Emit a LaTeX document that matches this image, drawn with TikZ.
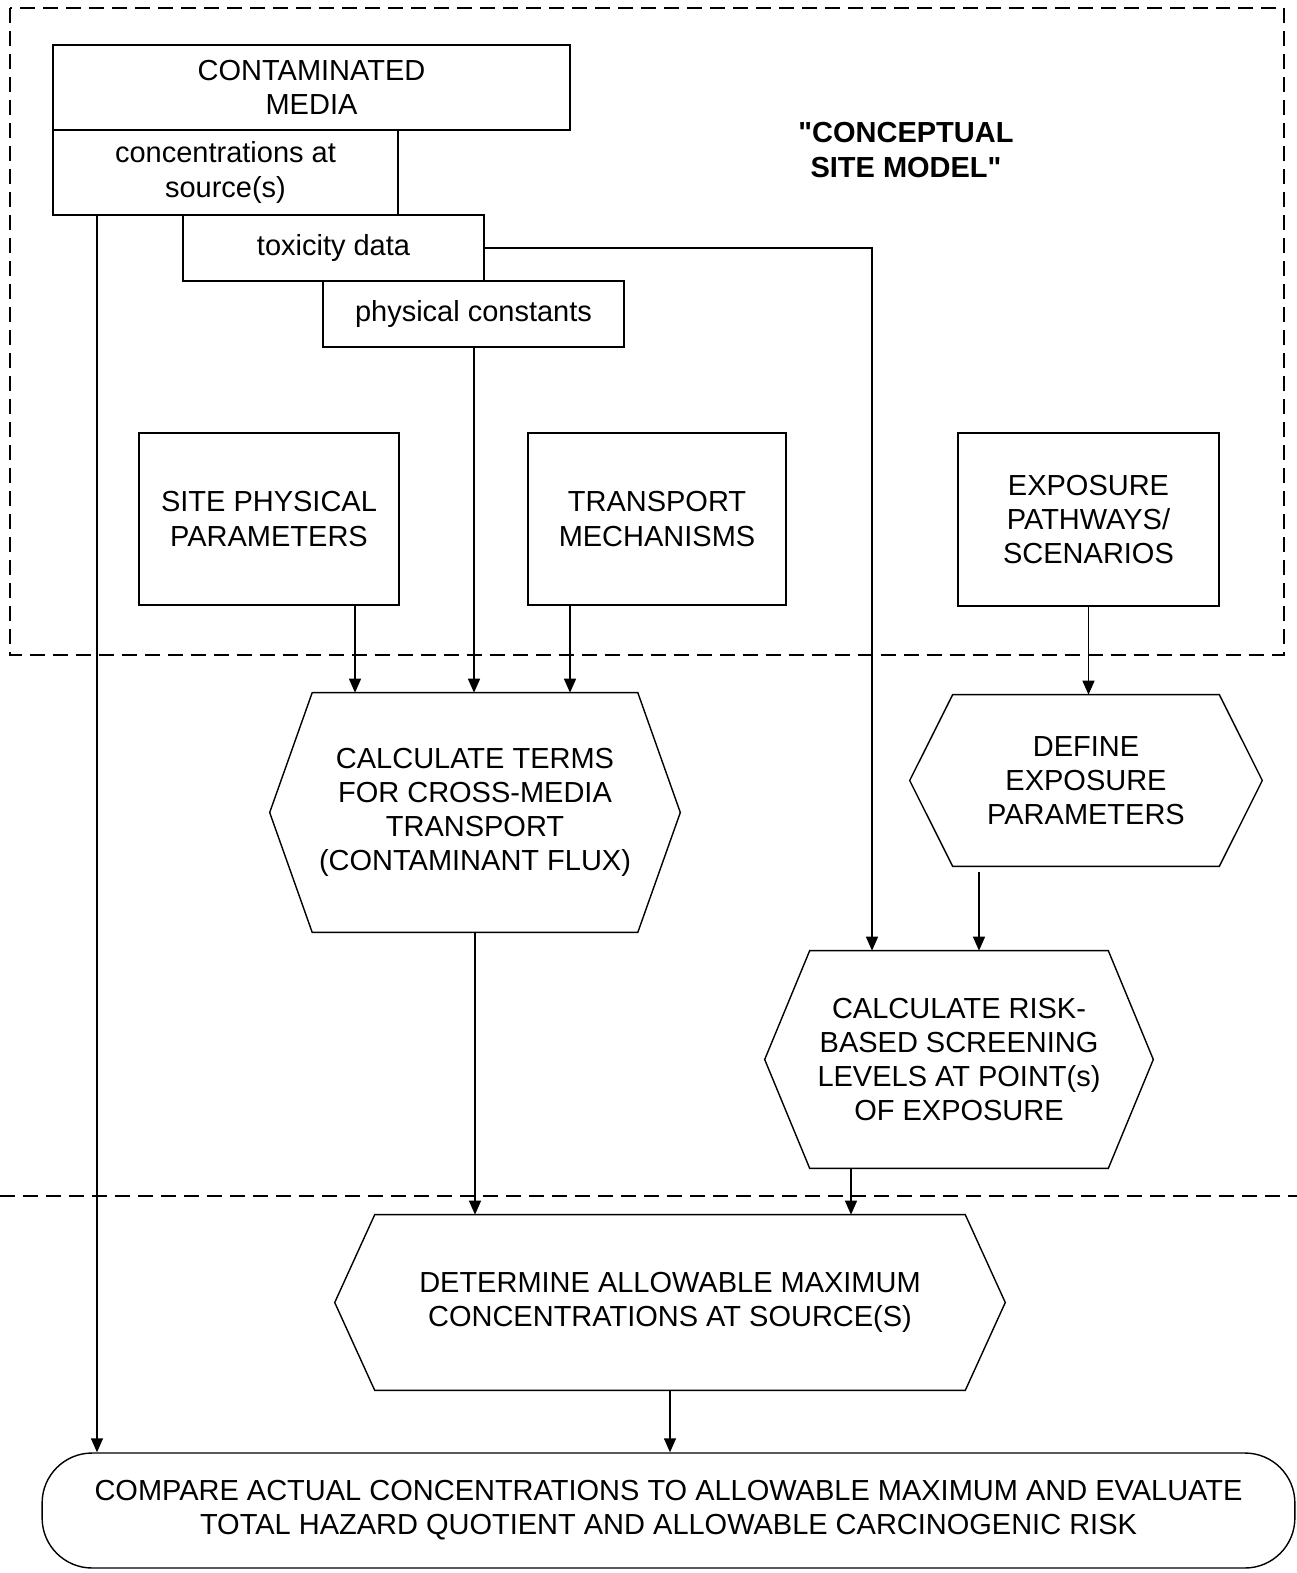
\documentclass[tikz,border=0pt]{standalone}
\usepackage{fontspec}
\setmainfont{Liberation Sans}[Ligatures=TeXOff]
\usetikzlibrary{arrows.meta}

\tikzset{
    box/.style={draw, line width=0.8pt, align=center, inner sep=0pt},
    hexnode/.style={align=center, inner sep=0pt},
    endbox/.style={draw, line width=0.8pt, align=center, inner sep=0pt, rounded corners=1cm},
    arr/.style={line width=0.8pt, -{Triangle[length=0.28cm,width=0.24cm]}},
    regionline/.style={line width=0.8pt, dash pattern=on 0.3cm off 0.16cm}
}

% hexagon outline round a named node, #2 = chamfer
\newcommand{\hexout}[2]{%
    \draw[line width=0.8pt] (#1.west) -- ([xshift=#2]#1.north west) -- ([xshift=-#2]#1.north east)
        -- (#1.east) -- ([xshift=-#2]#1.south east) -- ([xshift=#2]#1.south west) -- cycle;}

\begin{document}
\begin{tikzpicture}[x=0.02cm, y=-0.02cm, font=\fontsize{16.5}{19.4}\selectfont]
    \useasboundingbox (0,0) rectangle (1297,1573);

    % conceptual site model region
    \draw[regionline] (10,8) rectangle (1284,655);
    \draw[regionline] (0,1196) -- (1297,1196);
    \node[font=\fontsize{16.5}{19.4}\selectfont\bfseries, align=center] (csm) at (906,150) {"CONCEPTUAL\\SITE MODEL"};

    % stacked source boxes
    \node[box, minimum width=10.34cm, minimum height=1.70cm] (med) at (311.5,87.5) {CONTAMINATED\\MEDIA};
    \node[box, minimum width=6.90cm, minimum height=1.70cm] (conc) at (225.5,172.5) {concentrations at\\source(s)};
    \node[box, minimum width=6.02cm, minimum height=1.32cm] (tox) at (333.5,248) {toxicity data};
    \node[box, minimum width=6.02cm, minimum height=1.32cm] (phys) at (473.5,314) {physical constants};

    \node[box, minimum width=5.20cm, minimum height=3.44cm] (site) at (269,519) {SITE PHYSICAL\\PARAMETERS};
    \node[box, minimum width=5.16cm, minimum height=3.44cm] (trn) at (657,519) {TRANSPORT\\MECHANISMS};
    \node[box, minimum width=5.22cm, minimum height=3.46cm] (exp) at (1088.5,519.5) {EXPOSURE\\PATHWAYS/\\SCENARIOS};

    % process steps
    \node[hexnode, minimum width=8.20cm, minimum height=4.78cm] (calc) at (475,812.5) {CALCULATE TERMS\\FOR CROSS-MEDIA\\TRANSPORT\\(CONTAMINANT FLUX)};
    \hexout{calc}{0.85cm}
    \node[hexnode, minimum width=7.04cm, minimum height=3.42cm] (def) at (1086,780.5) {DEFINE\\EXPOSURE\\PARAMETERS};
    \hexout{def}{0.86cm}
    \node[hexnode, minimum width=7.76cm, minimum height=4.34cm] (rsk) at (959,1059.5) {CALCULATE RISK-\\BASED SCREENING\\LEVELS AT POINT(s)\\OF EXPOSURE};
    \hexout{rsk}{0.9cm}
    \node[hexnode, minimum width=13.40cm, minimum height=3.50cm] (det) at (670,1302.5) {DETERMINE ALLOWABLE MAXIMUM\\CONCENTRATIONS AT SOURCE(S)};
    \hexout{det}{0.8cm}
    \node[endbox, minimum width=25.06cm, minimum height=2.30cm] (cmp) at (668.5,1510.5) {COMPARE ACTUAL CONCENTRATIONS TO ALLOWABLE MAXIMUM AND EVALUATE\\TOTAL HAZARD QUOTIENT AND ALLOWABLE CARCINOGENIC RISK};

    % arrow lanes
    \coordinate (l1) at (97,0);
    \coordinate (l2) at (355,0);
    \coordinate (l3) at (474,0);
    \coordinate (l4) at (570,0);
    \coordinate (l5) at (872,0);
    \coordinate (l7) at (979,0);
    \coordinate (l8) at (851,0);

    \draw[arr] (conc.south -| l1) -- (l1 |- cmp.north);
    \draw[arr] (tox.east) -| (l5 |- rsk.north);
    \draw[arr] (phys.south -| l3) -- (l3 |- calc.north);
    \draw[arr] (site.south -| l2) -- (l2 |- calc.north);
    \draw[arr] (trn.south -| l4) -- (l4 |- calc.north);
    \draw[arr] (exp.south) -- (exp.south |- def.north);
    \draw[arr, shorten <=0.12cm] (def.south -| l7) -- (l7 |- rsk.north);
    \draw[arr] (calc.south) -- (calc.south |- det.north);
    \draw[arr] (rsk.south -| l8) -- (l8 |- det.north);
    \draw[arr] (det.south) -- (det.south |- cmp.north);
\end{tikzpicture}
\end{document}
